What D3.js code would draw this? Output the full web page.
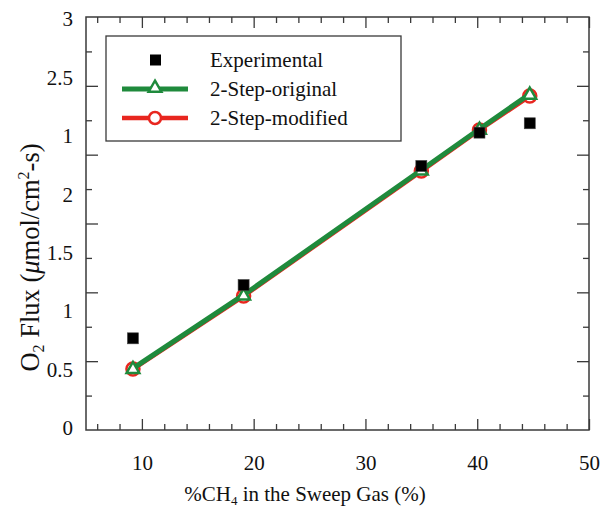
<!DOCTYPE html>
<html>
<head>
<meta charset="utf-8">
<script src="https://cdn.jsdelivr.net/npm/d3@7"></script>
<style>
  html, body { margin: 0; padding: 0; background: #fff; }
  svg { display: block; }
  svg text { font-family: "Times New Roman", "Liberation Serif", "DejaVu Serif", serif !important; }
</style>
</head>
<body>
<svg id="chart" width="600" height="508"></svg>
<script>
// %CH4 in the sweep gas
const ch4Percent = [9.2, 19.1, 35.0, 40.2, 44.7];
// O2 flux, umol/cm2-s
const experimental = [0.666, 1.053, 1.918, 2.160, 2.228];
const twoStepOriginal = [0.448, 0.981, 1.889, 2.186, 2.441];
const twoStepModified = [0.443, 0.973, 1.881, 2.180, 2.426];

const xTickValues = [10, 20, 30, 40, 50];
const yTickLabels = ["0", "0.5", "1", "1.5", "2", "1", "2.5", "3"];

const legendLabels = ["Experimental", "2-Step-original", "2-Step-modified"];

const GREEN = "#1f8a3c";
const RED = "#e8261f";
const FRAME = "#3a3a3a";
const FONT = 21;
const Y_TITLE_FONT = 26.5;

const svg = d3.select("#chart");
const plot = { left: 86, right: 589, top: 17, bottom: 430 };

const x = d3.scaleLinear().domain([5, 50]).range([plot.left, plot.right]);
const y = d3.scaleLinear().domain([0, 3]).range([plot.bottom, plot.top]);

// Minor / major tick positions
const xMinor = d3.range(6, 50, 2).filter(v => v % 10 !== 0);
const xMajor = d3.range(10, 51, 10);
const yMinor = d3.range(0.25, 3, 0.5);
const yMajor = d3.range(0.5, 3, 0.5);

function tickAxis(axisFn, scale, values, size, transform) {
  const g = svg.append("g").attr("transform", transform)
    .call(axisFn(scale).tickValues(values).tickSize(size).tickFormat(""));
  g.select(".domain").remove();
  g.selectAll(".tick line").attr("stroke", FRAME).attr("stroke-width", 1.3);
  return g;
}

// Inward ticks on all four sides
tickAxis(d3.axisTop, x, xMinor, 6, `translate(0,${plot.bottom})`);
tickAxis(d3.axisTop, x, xMajor, 11, `translate(0,${plot.bottom})`);
tickAxis(d3.axisBottom, x, xMinor, 6, `translate(0,${plot.top})`);
tickAxis(d3.axisBottom, x, xMajor, 11, `translate(0,${plot.top})`);
tickAxis(d3.axisRight, y, yMinor, 6, `translate(${plot.left},0)`);
tickAxis(d3.axisRight, y, yMajor, 12, `translate(${plot.left},0)`);
tickAxis(d3.axisLeft, y, yMinor, 6, `translate(${plot.right},0)`);
tickAxis(d3.axisLeft, y, yMajor, 12, `translate(${plot.right},0)`);

// Frame
svg.append("rect")
  .attr("x", plot.left).attr("y", plot.top)
  .attr("width", plot.right - plot.left).attr("height", plot.bottom - plot.top)
  .attr("fill", "none").attr("stroke", FRAME).attr("stroke-width", 1.5);

// X tick labels
const xLab = svg.append("g").attr("transform", `translate(0,${plot.bottom})`)
  .call(d3.axisBottom(x).tickValues(xTickValues).tickSize(0).tickPadding(25).tickFormat(d3.format("d")));
xLab.select(".domain").remove();
xLab.selectAll("text").attr("font-size", FONT).attr("fill", "#111");

// Y tick labels, evenly spaced along the axis
const yLabelScale = d3.scalePoint().domain(d3.range(yTickLabels.length)).range([428, 19]);
const yLab = svg.append("g").attr("transform", `translate(${plot.left},0)`)
  .call(d3.axisLeft(yLabelScale).tickSize(0).tickPadding(13).tickFormat(i => yTickLabels[i]));
yLab.select(".domain").remove();
yLab.selectAll("text").attr("font-size", FONT).attr("fill", "#111");

// Axis titles
const xTitle = svg.append("text")
  .attr("x", 305).attr("y", 501)
  .attr("text-anchor", "middle").attr("font-size", FONT).attr("fill", "#111");
xTitle.append("tspan").text("%CH");
xTitle.append("tspan").attr("font-size", 13).attr("dy", 4).text("4");
xTitle.append("tspan").attr("dy", -4).text(" in the Sweep Gas (%)");

const yTitle = svg.append("text")
  .attr("transform", "translate(39,257.5) rotate(-90)")
  .attr("text-anchor", "middle").attr("font-size", Y_TITLE_FONT).attr("fill", "#111");
yTitle.append("tspan").text("O");
yTitle.append("tspan").attr("font-size", 16).attr("dy", 5).text("2");
yTitle.append("tspan").attr("dy", -5).text(" Flux (");
yTitle.append("tspan").attr("font-style", "italic").text("\u03bc");
yTitle.append("tspan").text("mol/cm");
yTitle.append("tspan").attr("font-size", 16).attr("dy", -10).text("2");
yTitle.append("tspan").attr("dy", 10).text("-s)");

// Series
const line = d3.line().x(d => x(d[0])).y(d => y(d[1]));
const modPts = d3.zip(ch4Percent, twoStepModified);
const origPts = d3.zip(ch4Percent, twoStepOriginal);
const expPts = d3.zip(ch4Percent, experimental);

const triangle = d3.symbol().type(d3.symbolTriangle).size(70);

svg.append("path").datum(modPts).attr("d", line)
  .attr("fill", "none").attr("stroke", RED).attr("stroke-width", 4.5);
svg.selectAll(".mod").data(modPts).join("circle")
  .attr("cx", d => x(d[0])).attr("cy", d => y(d[1])).attr("r", 6.5)
  .attr("fill", "#fff").attr("stroke", RED).attr("stroke-width", 2.5);

svg.append("path").datum(origPts).attr("d", line)
  .attr("fill", "none").attr("stroke", GREEN).attr("stroke-width", 5);
svg.selectAll(".orig").data(origPts).join("path")
  .attr("transform", d => `translate(${x(d[0])},${y(d[1]) + 1})`)
  .attr("d", triangle)
  .attr("fill", "#fff").attr("stroke", GREEN).attr("stroke-width", 2.5);

svg.selectAll(".exp").data(expPts).join("rect")
  .attr("x", d => x(d[0]) - 5.5).attr("y", d => y(d[1]) - 5.5)
  .attr("width", 11).attr("height", 11)
  .attr("fill", "#000").attr("stroke", "#444").attr("stroke-width", 0.6);

// Legend
const legend = svg.append("g");
legend.append("rect")
  .attr("x", 106).attr("y", 36).attr("width", 295).attr("height", 105)
  .attr("fill", "#fff").attr("stroke", FRAME).attr("stroke-width", 1.3);

const rowY = [60, 89, 118];
legend.append("rect").attr("x", 150).attr("y", rowY[0] - 5.5).attr("width", 11).attr("height", 11)
  .attr("fill", "#000");
legend.append("line").attr("x1", 122).attr("x2", 188).attr("y1", rowY[1]).attr("y2", rowY[1])
  .attr("stroke", GREEN).attr("stroke-width", 5);
legend.append("path").attr("transform", `translate(155,${rowY[1] - 1})`).attr("d", triangle)
  .attr("fill", "#fff").attr("stroke", GREEN).attr("stroke-width", 2.5);
legend.append("line").attr("x1", 122).attr("x2", 188).attr("y1", rowY[2]).attr("y2", rowY[2])
  .attr("stroke", RED).attr("stroke-width", 4.5);
legend.append("circle").attr("cx", 155).attr("cy", rowY[2]).attr("r", 6)
  .attr("fill", "#fff").attr("stroke", RED).attr("stroke-width", 2.5);

legend.selectAll(".lt").data(legendLabels).join("text")
  .attr("x", 210).attr("y", (d, i) => rowY[i] + 7)
  .attr("font-size", FONT).attr("fill", "#111").text(d => d);
</script>
</body>
</html>
